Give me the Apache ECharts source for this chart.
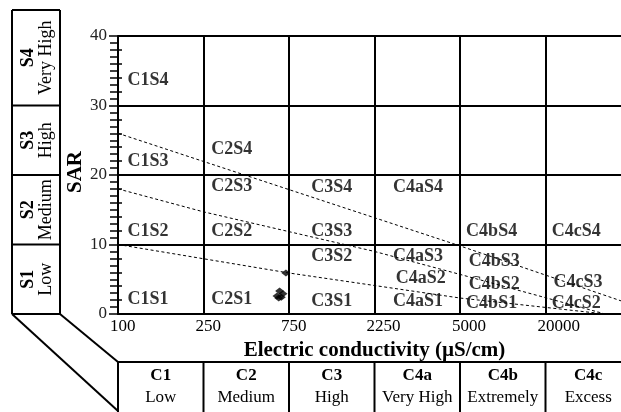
<!DOCTYPE html>
<html>
<head>
<meta charset="utf-8">
<script src="https://cdn.jsdelivr.net/npm/echarts@6/dist/echarts.min.js"></script>
<style>
  html, body { margin: 0; padding: 0; background: #fff; }
  #chart { width: 621px; height: 412px; }
</style>
</head>
<body>
<div id="chart"></div>
<script>
// EC class boundaries in µS/cm; every class gets the same width on the axis
const ecBounds = [100, 250, 750, 2250, 5000, 20000, 50000];
const ecTickLabels = ['100', '250', '750', '2250', '5000', '20000'];

// salinity hazard classes (bottom strip)
const salinityCodes = ['C1', 'C2', 'C3', 'C4a', 'C4b', 'C4c'];
const salinityNames = ['Low', 'Medium', 'High', 'Very High', 'Extremely', 'Excess'];

// sodium hazard classes (left strip), from bottom to top
const sodiumCodes = ['S1', 'S2', 'S3', 'S4'];
const sodiumNames = ['Low', 'Medium', 'High', 'Very High'];
const sodiumLimits = [0, 10, 20, 30, 40];

// water samples
const sampleEC = [732, 695, 680, 705, 715, 690];
const sampleSAR = [5.9, 3.3, 2.6, 2.4, 2.9, 2.3];

// dashed sodium boundaries, [EC, SAR]
const boundaryLow = [[100, 10], [750, 5.9], [5000, 2.3], [41000, 0]];
const boundaryMid = [[100, 18], [250, 14.7], [2250, 9.0], [5000, 5.7], [41000, 0]];
const boundaryHigh = [[100, 26], [750, 17.9], [5000, 9.8], [50000, 1.4]];

// zone names written inside the diagram, anchored at class position / SAR
const zoneNames = ['C1S4', 'C1S3', 'C1S2', 'C1S1',
  'C2S4', 'C2S3', 'C2S2', 'C2S1',
  'C3S4', 'C3S3', 'C3S2', 'C3S1',
  'C4aS4', 'C4aS3', 'C4aS2', 'C4aS1',
  'C4bS4', 'C4bS3', 'C4bS2', 'C4bS1',
  'C4cS4', 'C4cS3', 'C4cS2'];
const zoneClassPos = [0.35, 0.35, 0.35, 0.35,
  1.33, 1.33, 1.33, 1.33,
  2.50, 2.50, 2.50, 2.50,
  3.51, 3.51, 3.54, 3.51,
  4.37, 4.40, 4.40, 4.37,
  5.36, 5.38, 5.36];
const zoneSAR = [33.6, 22.0, 11.9, 2.1,
  23.7, 18.4, 11.9, 2.1,
  18.2, 11.9, 8.3, 1.8,
  18.2, 8.3, 5.2, 1.8,
  11.9, 7.6, 4.3, 1.5,
  11.9, 4.5, 1.6];

const SERIF = '"Liberation Serif", "Times New Roman", serif';

// EC -> position on the class axis (piecewise linear inside each class)
function classPos(ec) {
  for (let i = 0; i < ecBounds.length - 1; i++) {
    if (ec <= ecBounds[i + 1]) {
      return i + (ec - ecBounds[i]) / (ecBounds[i + 1] - ecBounds[i]);
    }
  }
  return ecBounds.length - 1;
}

const toXY = pts => pts.map(p => [classPos(p[0]), p[1]]);

const chart = echarts.init(document.getElementById('chart'), null, { renderer: 'canvas' });

const dashed = { color: '#000', width: 1, type: [3, 2.5] };

const option = {
  animation: false,
  backgroundColor: '#fff',
  grid: { left: 118, top: 36, width: 513, height: 278, containLabel: false, outerBoundsMode: 'none' },
  xAxis: {
    type: 'value',
    min: 0, max: 6, interval: 1,
    name: 'Electric conductivity (µS/cm)',
    nameLocation: 'middle',
    nameGap: 22,
    nameTextStyle: { fontFamily: SERIF, fontWeight: 'bold', fontSize: 21, color: '#000' },
    axisLine: { show: true, lineStyle: { color: '#000', width: 2 } },
    axisTick: { show: false },
    axisLabel: {
      fontFamily: SERIF, fontSize: 17, color: '#000', margin: 4,
      align: 'left', padding: [0, 0, 0, -8],
      formatter: v => ecTickLabels[v] !== undefined ? ecTickLabels[v] : ''
    },
    splitLine: { show: true, lineStyle: { color: '#000', width: 2 } }
  },
  yAxis: [{
    type: 'value',
    position: 'left',
    min: 0, max: 40, interval: 10,
    axisLine: { show: true, lineStyle: { color: '#000', width: 2 } },
    axisTick: { show: true, length: 9, lineStyle: { color: '#000', width: 1.5 } },
    minorTick: { show: true, splitNumber: 10, length: 8, lineStyle: { color: '#000', width: 1.5 } },
    axisLabel: { fontFamily: SERIF, fontSize: 17, color: '#222', margin: 11 },
    splitLine: { show: true, lineStyle: { color: '#000', width: 2 } }
  }, {
    type: 'value',
    position: 'left',
    min: 0, max: 40, interval: 10,
    axisLine: { show: false },
    axisTick: { show: true, inside: true, length: 4, lineStyle: { color: '#000', width: 1.5 } },
    minorTick: { show: true, splitNumber: 5, length: 4, lineStyle: { color: '#000', width: 1.5 } },
    axisLabel: { show: false },
    splitLine: { show: false }
  }],
  series: [
    { type: 'line', data: toXY(boundaryLow), symbol: 'none', lineStyle: dashed, silent: true, z: 3 },
    { type: 'line', data: toXY(boundaryMid), symbol: 'none', lineStyle: dashed, silent: true, z: 3 },
    { type: 'line', data: toXY(boundaryHigh), symbol: 'none', lineStyle: dashed, silent: true, z: 3 },
    {
      type: 'scatter',
      data: zoneNames.map((n, i) => ({ name: n, value: [zoneClassPos[i], zoneSAR[i]] })),
      symbolSize: 1,
      itemStyle: { color: 'rgba(0,0,0,0)' },
      label: {
        show: true, position: 'inside', formatter: '{b}',
        fontFamily: SERIF, fontWeight: 'bold', fontSize: 18, color: '#000'
      },
      silent: true, z: 4
    },
    {
      type: 'scatter',
      data: sampleEC.map((ec, i) => [classPos(ec), sampleSAR[i]]),
      symbol: 'diamond', symbolSize: [9, 7],
      itemStyle: { color: '#000' },
      z: 5
    }
  ]
};

chart.setOption(option);

// class strips drawn around the plot, aligned to the axes
const px = (x, y) => chart.convertToPixel({ gridIndex: 0 }, [x, y]);
const boxStroke = { stroke: '#000', lineWidth: 2, fill: null };
const g = [];
const line = (x1, y1, x2, y2) => g.push({ type: 'line', shape: { x1, y1, x2, y2 }, style: boxStroke, silent: true });
const text = (x, y, t, opts) => g.push({
  type: 'text', x, y, rotation: opts.rotation || 0, silent: true,
  style: Object.assign({ text: t, fontFamily: SERIF, fill: '#000', align: 'center', verticalAlign: 'middle' }, opts.style)
});

// left strip: sodium classes
const leftX0 = 12, leftX1 = 60, leftTop = 10;
const yAt = s => px(0, s)[1];
line(leftX0, leftTop, leftX1, leftTop);
line(leftX0, leftTop, leftX0, yAt(0));
line(leftX1, leftTop, leftX1, yAt(0));
line(leftX0, yAt(0), leftX1, yAt(0));
for (let i = 1; i < sodiumCodes.length; i++) line(leftX0, yAt(sodiumLimits[i]), leftX1, yAt(sodiumLimits[i]));
sodiumCodes.forEach((c, i) => {
  const yb = yAt(sodiumLimits[i]);
  const yt = i === sodiumCodes.length - 1 ? leftTop : yAt(sodiumLimits[i + 1]);
  const cy = (yb + yt) / 2;
  text(28, cy, c, { rotation: Math.PI / 2, style: { fontWeight: 'bold', fontSize: 18 } });
  text(46, cy, sodiumNames[i], { rotation: Math.PI / 2, style: { fontSize: 18 } });
});

// bottom strip: salinity classes
const stripTop = 362, stripBottom = 412;
const xAt = p => px(p, 0)[0];
line(xAt(0), stripTop, 640, stripTop);
for (let i = 0; i <= salinityCodes.length; i++) line(xAt(i), stripTop, xAt(i), stripBottom + 2);
salinityCodes.forEach((c, i) => {
  const cx = (xAt(i) + xAt(i + 1)) / 2;
  text(cx, 376, c, { style: { fontWeight: 'bold', fontSize: 17 } });
  text(cx, 398, salinityNames[i], { style: { fontSize: 17 } });
});

// connecting bevel between the two strips
line(leftX0, yAt(0), xAt(0), 411);
line(leftX1, yAt(0), xAt(0), stripTop);

// y-axis title
text(76, 172, 'SAR', { rotation: Math.PI / 2, style: { fontWeight: 'bold', fontSize: 21 } });

chart.setOption({ graphic: g });
</script>
</body>
</html>
